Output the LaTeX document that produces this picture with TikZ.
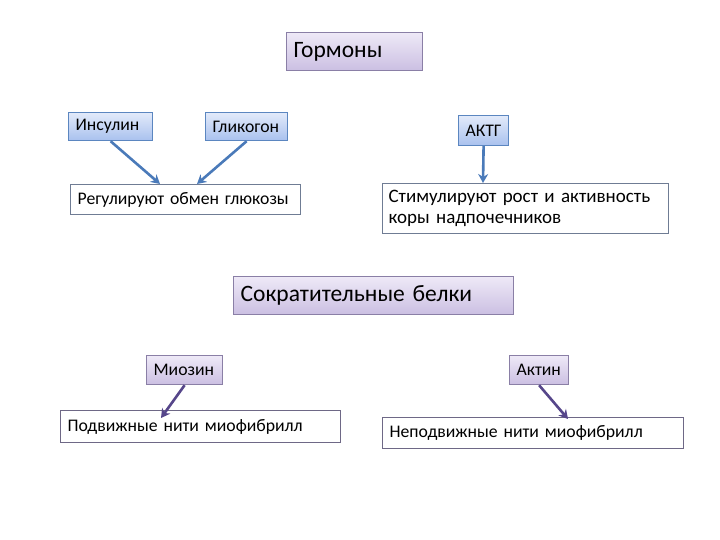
\documentclass[tikz,border=0pt]{standalone}
\usepackage{fontspec}
\setmainfont{Carlito}
\usetikzlibrary{arrows.meta,calc}
\definecolor{bluebd}{HTML}{5B86C0}
\definecolor{bluetop}{HTML}{E2EAFA}
\definecolor{bluebot}{HTML}{A9C1EE}
\definecolor{purbd}{HTML}{8A7FA6}
\definecolor{purtop}{HTML}{EEE9F7}
\definecolor{purbot}{HTML}{CBBFE2}
\definecolor{greybd}{HTML}{6F7C94}
\definecolor{purbd2}{HTML}{6E6886}
\definecolor{bluearr}{HTML}{4A7AB9}
\definecolor{purarr}{HTML}{56468A}
\tikzset{
  bx/.style={draw, rectangle, anchor=north west, inner xsep=7pt, inner ysep=0pt, align=left, line width=1.2pt},
  bluebox/.style={bx, draw=bluebd, top color=bluetop, bottom color=bluebot},
  purbox/.style={bx, draw=purbd, top color=purtop, bottom color=purbot},
  whitebox/.style={bx, fill=white},
  small/.style={font=\fontsize{17.7}{20}\selectfont},
  big/.style={font=\fontsize{23.5}{26}\selectfont},
  barrow/.style={draw=bluearr, line width=2.6pt, -{Stealth[length=9pt,width=10pt]}},
  parrow/.style={draw=purarr, line width=2.6pt, -{Stealth[length=9pt,width=10pt]}},
}
\begin{document}
\begin{tikzpicture}[x=1pt,y=-1pt]
\useasboundingbox (0,0) rectangle (720,540);
% Hormones
\node[purbox, big, minimum width=136pt, minimum height=38pt, text width=122pt] (gorm) at (286,32) {Гормоны};
\node[bluebox, small, minimum width=84pt, minimum height=28pt, text width=70pt] (ins) at (68,112) {Инсулин};
\node[bluebox, small, minimum width=82pt, minimum height=28pt, text width=68pt] (glik) at (205,112) {Гликогон};
\node[bluebox, small, minimum width=50pt, minimum height=30pt, inner xsep=0pt, text width=50pt, align=center] (aktg) at (458,115) {АКТГ};
\node[whitebox, draw=greybd, small, minimum width=230pt, minimum height=30pt, text width=216pt] (reg) at (70,184) {Регулируют обмен глюкозы};
\node[whitebox, draw=greybd, font=\fontsize{19}{20.5}\selectfont, minimum width=284pt, minimum height=50pt, text width=274pt, inner xsep=6pt] (stim) at (382,183) {Стимулируют рост и активность\\коры надпочечников};
% Contractile proteins
\node[purbox, big, minimum width=280pt, minimum height=38pt, text width=266pt] (sokr) at (233,276) {Сократительные белки};
\node[purbox, small, minimum width=76pt, minimum height=29pt, text width=62pt] (mioz) at (146,355) {Миозин};
\node[purbox, small, minimum width=59pt, minimum height=29pt, text width=45pt] (akt) at (509,355) {Актин};
\node[whitebox, draw=purbd2, small, minimum width=280pt, minimum height=32pt, text width=266pt] (podv) at (60,410) {Подвижные нити миофибрилл};
\node[whitebox, draw=purbd2, small, minimum width=301pt, minimum height=31pt, text width=287pt] (nepodv) at (382,417) {Неподвижные нити миофибрилл};
% arrows
\draw[barrow] (ins.south) -- ([xshift=90pt]reg.north west);
\draw[barrow] (glik.south) -- ([xshift=127pt]reg.north west);
\draw[barrow] (aktg.south) -- ([xshift=101pt]stim.north west);
\draw[parrow] (mioz.south) -- ([xshift=101pt,yshift=-8pt]podv.north west);
\draw[parrow] (akt.south) -- ([xshift=186pt,yshift=-2pt]nepodv.north west);
\end{tikzpicture}
\end{document}
